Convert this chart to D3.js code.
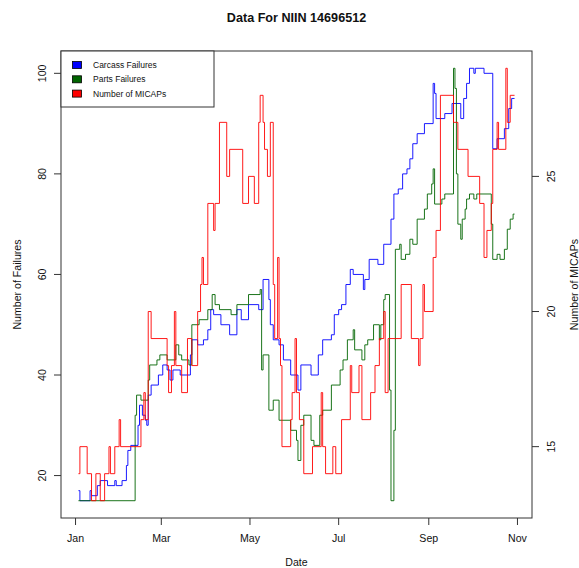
<!DOCTYPE html>
<html><head><meta charset="utf-8">
<script src="https://cdn.jsdelivr.net/npm/d3@7"></script>
<style>
body{margin:0;background:#fff}
svg{display:block}
text{font-family:"Liberation Sans",Arial,Helvetica,sans-serif;fill:#111}
</style>
</head><body>
<svg id="chart" width="579" height="568"></svg>
<script>
// ---- data (days counted from 1 Jan) ----
const year = 2013;
const carcassDays   = [2,3,10,11,15,17,22,27,28,32,35,36,38,43,44,46,48,49,50,52,57,60,63,65,67,72,79,80,84,88,91,93,95,100,106,111,114,119,126,129,133,134,136,140,143,148,153,155,162,167,170,176,178,181,183,186,189,191,198,199,202,208,212,217,219,222,225,228,230,232,235,240,246,247,248,254,259,265,267,269,271,274,275,281,287,290,295,298,300,302];
const carcassValues = [17,15,17,16,18,19,18,19,18,19,22,25,26,30,34,32,31,30,36,38,40,42,41,39,41,40,44,47,46,47,49,53,52,50,48,53,51,54,53,59,55,50,47,46,43,40,37,42,40,44,47,48,52,53,54,58,61,60,57,59,63,62,66,71,76,77,80,81,83,86,88,90,98,96,91,92,94,91,95,98,101,100,101,100,85,87,89,93,95,95];
const partsDays     = [2,41,42,45,50,51,56,58,63,69,71,73,78,80,85,91,94,96,99,107,111,119,127,128,129,133,136,140,148,152,153,155,157,162,164,168,170,176,182,184,187,191,192,197,199,201,205,209,210,212,213,216,217,219,220,223,224,227,230,232,235,240,242,245,246,247,252,254,260,261,262,263,265,266,268,269,271,274,276,286,287,290,292,295,297,299,301,302];
const partsValues   = [15,32,36,35,39,42,43,44,43,46,44,43,42,50,51,53,56,54,53,52,54,56,57,41,44,33,35,31,29,27,23,30,32,27,26,32,33,38,41,43,47,49,45,43,46,47,50,47,50,55,56,37,15,29,65,66,63,64,67,66,71,73,76,78,81,74,75,76,101,97,80,70,67,71,73,75,76,75,76,70,63,64,63,65,69,71,72,72];
const micapDays     = [2,3,8,11,14,17,20,23,24,27,30,31,45,47,48,50,52,63,64,66,68,69,73,77,80,84,86,87,88,91,95,96,99,104,106,115,119,123,126,127,129,130,132,134,136,137,139,140,141,142,148,149,151,152,154,157,163,169,170,172,177,179,183,189,190,195,197,203,206,209,212,213,215,224,231,236,237,239,240,246,248,251,260,263,270,278,281,283,286,287,290,291,296,297,299,302];
const micapValues   = [14,15,14,13,14,13,14,15,14,15,16,15,16,17,16,20,19,18,17,18,20,18,17,19,18,20,21,22,21,24,23,24,27,25,26,24,25,24,27,28,27,26,25,27,21,19,22,19,18,15,16,17,19,17,16,14,15,17,15,14,15,14,16,18,17,18,16,17,18,19,20,17,19,21,19,18,19,21,20,22,23,28,27,26,25,24,22,23,24,26,27,26,29,27,28,28];

const monthTickDates = ["2013-01-01","2013-03-01","2013-05-01","2013-07-01","2013-09-01","2013-11-01"];
const monthTickLabels = ["Jan","Mar","May","Jul","Sep","Nov"];
const leftTicks = [20,40,60,80,100];
const rightTicks = [15,20,25];
const seriesNames = ["Carcass Failures","Parts Failures","Number of MICAPs"];
const seriesColors = ["#0000FF","#006400","#FF0000"];

// ---- layout ----
const svg = d3.select("#chart");
const L = 61, R = 532, T = 51, B = 518;
const toDate = d => new Date(Date.UTC(year,0,1+d));
const pad = (lo,hi) => { const p=(hi-lo)*0.04; return [lo-p, hi+p]; };

const allDays = carcassDays.concat(partsDays, micapDays);
const dExt = pad(d3.min(allDays), d3.max(allDays));
const x = d3.scaleUtc().domain([toDate(0).getTime()+dExt[0]*864e5, toDate(0).getTime()+dExt[1]*864e5]).range([L,R]);
const yL = d3.scaleLinear().domain(pad(Math.min(d3.min(carcassValues),d3.min(partsValues)), Math.max(d3.max(carcassValues),d3.max(partsValues)))).range([B,T]);
const yR = d3.scaleLinear().domain(pad(d3.min(micapValues), d3.max(micapValues))).range([B,T]);

const plot = svg.append("g");
function drawSeries(days, vals, y, color){
  const pts = days.map((d,i)=>[toDate(d), vals[i]]);
  const line = d3.line().x(p=>x(p[0])).y(p=>y(p[1])).curve(d3.curveStepAfter);
  plot.append("path").attr("d", line(pts)).attr("fill","none")
    .attr("stroke", color).attr("stroke-width",0.9);
}
drawSeries(carcassDays, carcassValues, yL, seriesColors[0]);
drawSeries(partsDays, partsValues, yL, seriesColors[1]);
drawSeries(micapDays, micapValues, yR, seriesColors[2]);

// box
svg.append("rect").attr("x",L).attr("y",T).attr("width",R-L).attr("height",B-T)
  .attr("fill","none").attr("stroke","#333").attr("stroke-width",1);

const fs = 10.6;
// bottom axis
const bx = svg.append("g");
monthTickDates.forEach((s,i)=>{
  const px = x(new Date(s+"T00:00:00Z"));
  bx.append("line").attr("x1",px).attr("x2",px).attr("y1",B).attr("y2",B+7).attr("stroke","#333");
  bx.append("text").attr("x",px).attr("y",542).attr("text-anchor","middle").attr("font-size",fs).text(monthTickLabels[i]);
});
// left axis
leftTicks.forEach(v=>{
  const py = yL(v);
  svg.append("line").attr("x1",L-7).attr("x2",L).attr("y1",py).attr("y2",py).attr("stroke","#333");
  svg.append("text").attr("transform",`translate(42,${py}) rotate(-90)`).attr("dy","0.35em")
    .attr("text-anchor","middle").attr("font-size",fs).text(v);
});
// right axis
rightTicks.forEach(v=>{
  const py = yR(v);
  svg.append("line").attr("x1",R).attr("x2",R+7).attr("y1",py).attr("y2",py).attr("stroke","#333");
  svg.append("text").attr("transform",`translate(551,${py}) rotate(-90)`).attr("dy","0.35em")
    .attr("text-anchor","middle").attr("font-size",fs).text(v);
});

// titles
svg.append("text").attr("x",(L+R)/2).attr("y",22).attr("text-anchor","middle")
  .attr("font-size",12.6).attr("font-weight","bold").text("Data For NIIN 14696512");
svg.append("text").attr("x",(L+R)/2).attr("y",566).attr("text-anchor","middle").attr("font-size",fs).text("Date");
svg.append("text").attr("transform",`translate(17,${(T+B)/2}) rotate(-90)`).attr("dy","0.35em")
  .attr("text-anchor","middle").attr("font-size",fs).text("Number of Failures");
svg.append("text").attr("transform",`translate(574,${(T+B)/2}) rotate(-90)`).attr("dy","0.35em")
  .attr("text-anchor","middle").attr("font-size",fs).text("Number of MICAPs");

// legend
const lg = svg.append("g");
lg.append("rect").attr("x",L).attr("y",T).attr("width",153).attr("height",56)
  .attr("fill","#fff").attr("stroke","#333").attr("stroke-width",1);
seriesNames.forEach((n,i)=>{
  const cy = 65 + i*14.3;
  lg.append("rect").attr("x",72.5).attr("y",cy-3.5).attr("width",9).attr("height",7)
    .attr("fill",seriesColors[i]).attr("stroke","#000").attr("stroke-width",0.8);
  lg.append("text").attr("x",93).attr("y",cy).attr("dy","0.35em").attr("font-size",8.5).text(n);
});
</script>
</body></html>
